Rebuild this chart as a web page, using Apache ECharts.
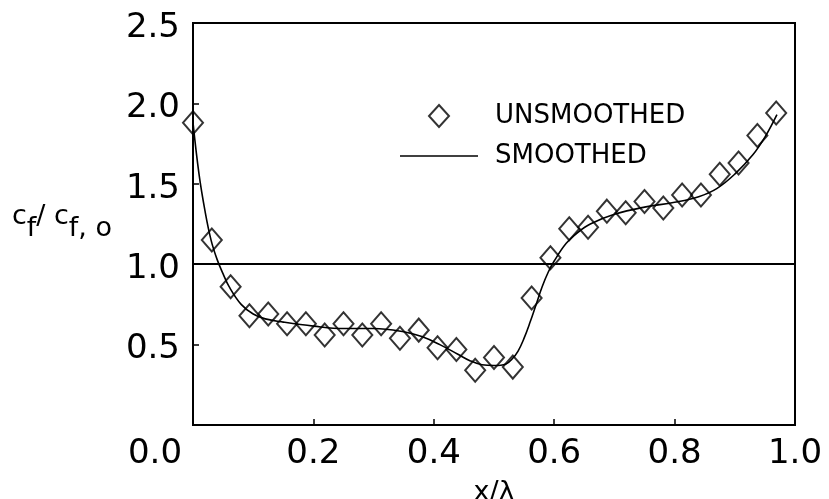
<!DOCTYPE html>
<html>
<head>
<meta charset="utf-8">
<script src="https://cdn.jsdelivr.net/npm/echarts@6/dist/echarts.min.js"></script>
<style>html,body{margin:0;padding:0;background:#fff}#c{width:829px;height:499px}</style>
</head>
<body>
<div id="c"></div>
<script>
// Unsmoothed measurements (diamonds)
const rawX = [0, 0.03125, 0.0625, 0.09375, 0.125, 0.15625, 0.1875, 0.21875, 0.25, 0.28125,
  0.3125, 0.34375, 0.375, 0.40625, 0.4375, 0.46875, 0.5, 0.53125, 0.5625, 0.59375,
  0.625, 0.65625, 0.6875, 0.71875, 0.75, 0.78125, 0.8125, 0.84375, 0.875, 0.90625, 0.9375, 0.96875];
const rawY = [1.88, 1.15, 0.86, 0.68, 0.69, 0.63, 0.63, 0.56, 0.63, 0.56,
  0.63, 0.54, 0.59, 0.48, 0.47, 0.34, 0.42, 0.36, 0.79, 1.04,
  1.22, 1.23, 1.33, 1.32, 1.39, 1.35, 1.43, 1.43, 1.56, 1.63, 1.80, 1.94];
// Smoothed curve
const smoothX = [0, 0.01, 0.02, 0.03, 0.04, 0.05, 0.06, 0.08, 0.10, 0.12, 0.15, 0.20, 0.25, 0.30, 0.35,
  0.38, 0.41, 0.44, 0.46, 0.48, 0.50, 0.52, 0.53, 0.54, 0.55, 0.56, 0.57, 0.58, 0.59, 0.60,
  0.62, 0.64, 0.66, 0.70, 0.75, 0.80, 0.84, 0.87, 0.90, 0.93, 0.95, 0.97];
const smoothY = [1.88, 1.56, 1.33, 1.15, 1.03, 0.94, 0.86, 0.75, 0.69, 0.66, 0.64, 0.615, 0.60, 0.60, 0.58,
  0.55, 0.50, 0.44, 0.40, 0.375, 0.37, 0.38, 0.41, 0.46, 0.54, 0.64, 0.75, 0.86, 0.95, 1.02,
  1.13, 1.20, 1.25, 1.31, 1.355, 1.385, 1.42, 1.47, 1.56, 1.68, 1.79, 1.93];
const refLevel = 1.0;
const xTicks = [0, 0.2, 0.4, 0.6, 0.8, 1.0];
const yTicks = [0, 0.5, 1.0, 1.5, 2.0, 2.5];
const legendNames = ['UNSMOOTHED', 'SMOOTHED'];

const FONT = 'DejaVu Sans';
const chart = echarts.init(document.getElementById('c'), null, {renderer: 'canvas'});
chart.setOption({
  animation: false,
  backgroundColor: '#fff',
  grid: {left: 193, right: 34, top: 23, bottom: 74, containLabel: false, outerBoundsMode: 'none',
    show: true, borderColor: '#000', borderWidth: 2, backgroundColor: 'transparent'},
  legend: {
    data: [
      {name: legendNames[0], icon: 'path://M10,0L20,11L10,22L0,11Z'},
      {name: legendNames[1], icon: 'path://M0,0L100,0L100,2L0,2Z', itemStyle: {color: '#000', borderWidth: 0}}
    ],
    orient: 'vertical',
    left: 395, top: 97,
    itemWidth: 78, itemHeight: 22, itemGap: 12,
    formatter: n => '{t|' + n + '}',
    textStyle: {color: '#000', fontFamily: FONT, fontSize: 26, lineHeight: 28,
      rich: {t: {fontFamily: FONT, fontSize: 26, lineHeight: 28, color: '#000', padding: [0, 0, 0, 12]}}}
  },
  xAxis: {
    type: 'value', min: xTicks[0], max: xTicks[xTicks.length - 1], interval: 0.2,
    name: 'x/λ', nameLocation: 'middle', nameGap: 54,
    nameTextStyle: {fontFamily: FONT, fontSize: 27, color: '#000'},
    axisLine: {show: true, onZero: false, lineStyle: {color: '#000', width: 2}},
    axisTick: {show: true, inside: true, length: 6, lineStyle: {color: '#000', width: 1.5}},
    splitLine: {show: false},
    axisLabel: {
      show: true, showMinLabel: true, showMaxLabel: true, margin: 12,
      fontFamily: FONT, fontSize: 34, color: '#000',
      formatter: v => v === 0 ? '{z|' + v.toFixed(1) + '}' : v.toFixed(1),
      rich: {z: {fontFamily: FONT, fontSize: 34, color: '#000', padding: [0, 76, 0, 0]}}
    }
  },
  yAxis: {
    type: 'value', min: yTicks[0], max: yTicks[yTicks.length - 1], interval: 0.5,
    name: '{a|c}{b|f}{a|/ c}{b|f, o}', nameLocation: 'middle', nameRotate: 0, nameGap: 81,
    nameTextStyle: {
      color: '#000', padding: [0, 0, 14, 0],
      rich: {
        a: {fontFamily: FONT, fontSize: 27, lineHeight: 27, color: '#000', verticalAlign: 'top'},
        b: {fontFamily: FONT, fontSize: 27, lineHeight: 27, color: '#000', verticalAlign: 'top', padding: [12, 0, 0, 0]}
      }
    },
    axisLine: {show: true, onZero: false, lineStyle: {color: '#000', width: 2}},
    axisTick: {show: true, inside: true, length: 6, lineStyle: {color: '#000', width: 1.5}},
    splitLine: {show: false},
    axisLabel: {
      show: true, margin: 13, fontFamily: FONT, fontSize: 34, color: '#000',
      formatter: v => v === 0 ? '' : '{v|' + v.toFixed(1) + '}',
      rich: {v: {fontFamily: FONT, fontSize: 34, lineHeight: 34, color: '#000', padding: [10, 0, 0, 0]}}
    }
  },
  series: [
    {
      name: legendNames[0], type: 'scatter',
      data: rawX.map((x, i) => [x, rawY[i]]),
      symbol: 'diamond', symbolSize: [20, 23],
      itemStyle: {color: 'transparent', borderColor: '#000', borderWidth: 2},
      z: 3
    },
    {
      name: legendNames[1], type: 'line',
      data: smoothX.map((x, i) => [x, smoothY[i]]),
      smooth: 0.4, symbol: 'none', showSymbol: false,
      lineStyle: {color: '#000', width: 1.6},
      itemStyle: {color: '#000'},
      markLine: {
        silent: true, symbol: ['none', 'none'], label: {show: false},
        lineStyle: {color: '#000', width: 2, type: 'solid'},
        data: [{yAxis: refLevel}]
      },
      z: 2
    }
  ]
});
</script>
</body>
</html>
